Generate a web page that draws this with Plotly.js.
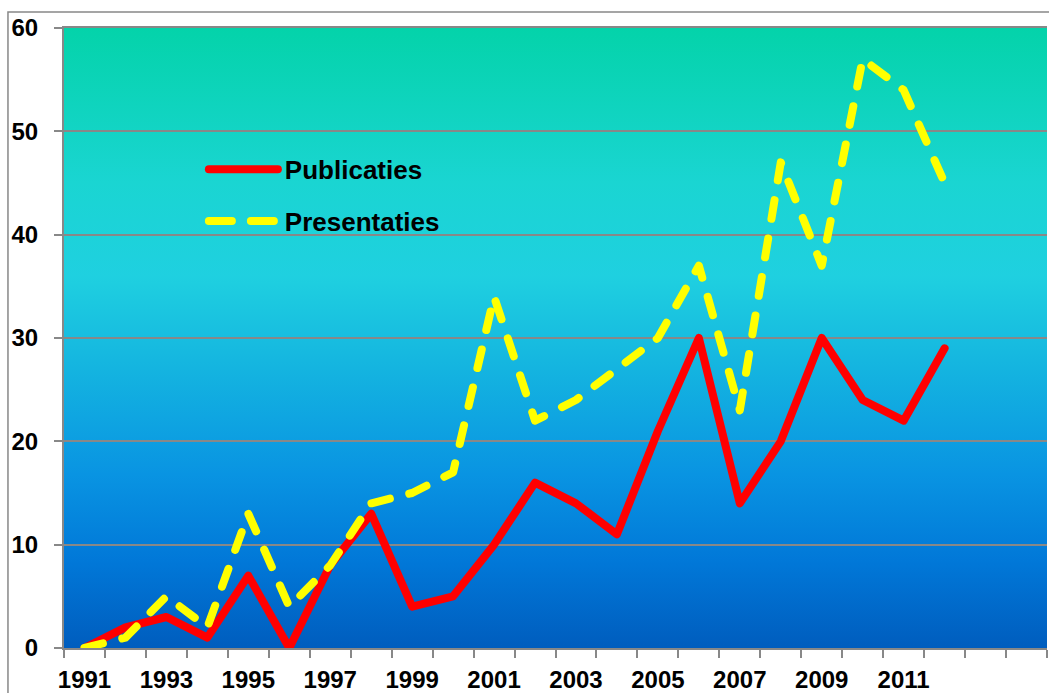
<!DOCTYPE html>
<html>
<head>
<meta charset="utf-8">
<script src="https://cdn.plot.ly/plotly-3.0.1.min.js"></script>
<style>
html,body{margin:0;padding:0;background:#fff;}
#chart{width:1049px;height:693px;}
path.js-line{stroke-linecap:round;stroke-linejoin:round;}
</style>
</head>
<body>
<div id="chart"></div>
<script>
// ---- data ----
const years = [1991,1992,1993,1994,1995,1996,1997,1998,1999,2000,2001,2002,2003,2004,2005,2006,2007,2008,2009,2010,2011,2012];
const publicaties = [0,2,3,1,7,0,8,13,4,5,10,16,14,11,21,30,14,20,30,24,22,29];
const presentaties = [0,1,5,2,13,4,8,14,15,17,34,22,24,27,30,37,23,47,37,57,54,45];
const tickYears = [1991,1993,1995,1997,1999,2001,2003,2005,2007,2009,2011];
const tickLabels = ['1991','1993','1995','1997','1999','2001','2003','2005','2007','2009','2011'];
const seriesNames = ['Publicaties','Presentaties'];

const gradSvg = '<svg xmlns="http://www.w3.org/2000/svg" width="100" height="100" viewBox="0 0 100 100" preserveAspectRatio="none">' +
  '<defs><linearGradient id="g" x1="0" y1="0" x2="0" y2="1">' +
  '<stop offset="0" stop-color="#04D3AA"/>' +
  '<stop offset="0.25" stop-color="#1AD5D2"/>' +
  '<stop offset="0.40" stop-color="#1FD0E0"/>' +
  '<stop offset="0.55" stop-color="#14B4E0"/>' +
  '<stop offset="0.72" stop-color="#0994E2"/>' +
  '<stop offset="0.86" stop-color="#0178D8"/>' +
  '<stop offset="1" stop-color="#005DBE"/>' +
  '</linearGradient></defs><rect x="0" y="0" width="100" height="100" fill="url(#g)"/></svg>';
const gradUri = 'data:image/svg+xml;base64,' + btoa(gradSvg);

const FONT = 'Liberation Sans, Arial, sans-serif';
const GRAY = '#888888';

const traces = [
  {x: years, y: publicaties, name: seriesNames[0], type: 'scatter', mode: 'lines',
   legendgroup: 'a', line: {color: '#FF0000', width: 8}},
  {x: years, y: presentaties, name: seriesNames[1], type: 'scatter', mode: 'lines',
   legendgroup: 'b', line: {color: '#FFFF00', width: 8, dash: '19px,20px'}}
];

const layout = {
  width: 1049, height: 693,
  margin: {l: 64, r: 2, t: 28, b: 45, pad: 0},
  paper_bgcolor: '#FFFFFF',
  plot_bgcolor: 'rgba(0,0,0,0)',
  font: {family: FONT, size: 24, color: '#000'},
  showlegend: true,
  legend: {x: 0.184, y: 0.81, xanchor: 'left', yanchor: 'top', bgcolor: 'rgba(0,0,0,0)',
           font: {family: FONT, size: 26, color: '#000', weight: 'bold'}, tracegroupgap: 15},
  xaxis: {
    type: 'linear', range: [1990.5, 2014.5],
    tickmode: 'array', tickvals: tickYears, ticktext: tickLabels,
    ticks: '', showgrid: false, zeroline: false,
    showline: true, linecolor: GRAY, linewidth: 2, mirror: true,
    tickfont: {family: FONT, size: 24, color: '#000', weight: 'bold'},
    ticklabelstandoff: 9,
    minor: {ticks: 'outside', ticklen: 8, tickwidth: 2, tickcolor: GRAY, tick0: 1990.5, dtick: 1, showgrid: false}
  },
  yaxis: {
    range: [0, 60], dtick: 10, tick0: 0,
    ticks: 'outside', ticklen: 8, tickwidth: 2, tickcolor: GRAY,
    showgrid: true, gridcolor: GRAY, gridwidth: 2,
    zeroline: false, showline: true, linecolor: GRAY, linewidth: 2,
    tickfont: {family: FONT, size: 24, color: '#000', weight: 'bold'},
    ticklabelstandoff: 11
  },
  images: [{source: gradUri, xref: 'paper', yref: 'paper', x: 0, y: 1, sizex: 1, sizey: 1,
            sizing: 'stretch', layer: 'below', xanchor: 'left', yanchor: 'top'}],
  shapes: [{type: 'rect', xref: 'paper', yref: 'paper', x0: -0.057, x1: 1.3, y0: -0.3, y1: 1.0258,
            line: {color: GRAY, width: 1.5}, fillcolor: 'rgba(0,0,0,0)', layer: 'below'}]
};

function widenLegend() {
  const sb = document.querySelector('#chart .legend .scrollbox');
  if (sb) sb.removeAttribute('clip-path');
  const lg = document.querySelector('#chart .legend');
  if (lg) lg.removeAttribute('clip-path');
  document.querySelectorAll('#chart .legend .traces path.js-line').forEach(p => {
    p.setAttribute('d', 'M-36,0h69');
    if (p.style.strokeDasharray && p.style.strokeDasharray !== 'none') {
      p.style.strokeDasharray = '23px, 19px';
    }
  });
}
Plotly.newPlot('chart', traces, layout, {displayModeBar: false, staticPlot: true}).then(gd => {
  widenLegend();
  gd.on('plotly_afterplot', widenLegend);
});
</script>
</body>
</html>
